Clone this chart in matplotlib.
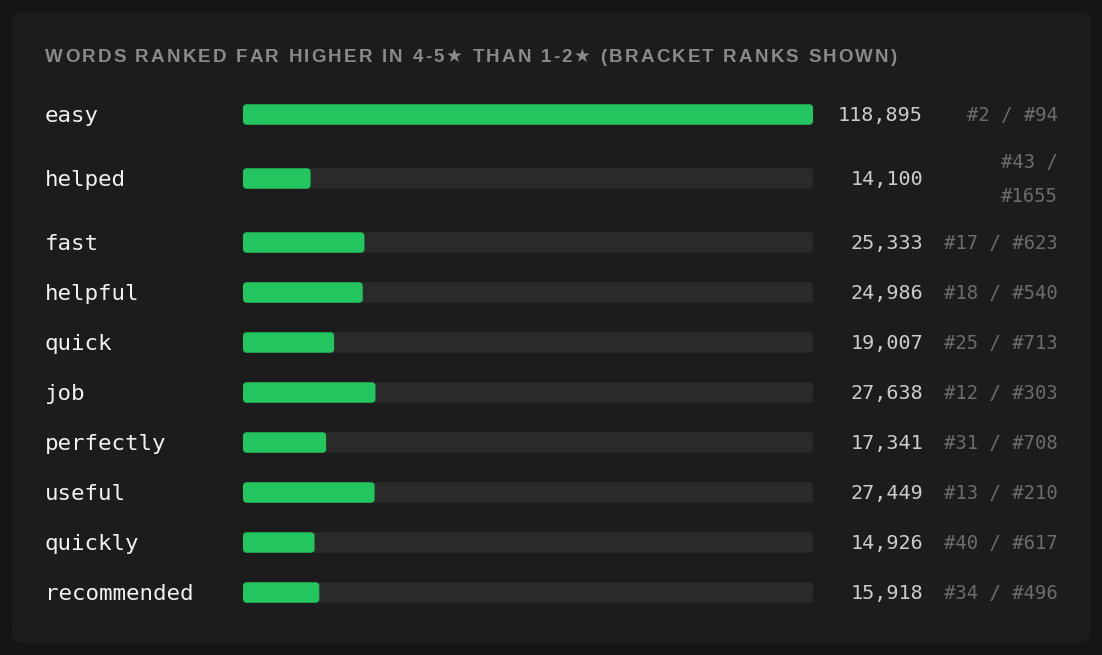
import matplotlib
matplotlib.use("Agg")
import matplotlib.pyplot as plt
from matplotlib.patches import FancyBboxPatch
from matplotlib.font_manager import FontProperties

# data
words = ["easy", "helped", "fast", "helpful", "quick", "job",
         "perfectly", "useful", "quickly", "recommended"]
counts = [118895, 14100, 25333, 24986, 19007, 27638, 17341, 27449, 14926, 15918]
rank_high = [2, 43, 17, 18, 25, 12, 31, 13, 40, 34]
rank_low = [94, 1655, 623, 540, 713, 303, 708, 210, 617, 496]
title = "WORDS RANKED FAR HIGHER IN 4-5\u2605 THAN 1-2\u2605 (BRACKET RANKS SHOWN)"

# colours
BG = "#151515"
CARD = "#1c1c1c"
TRACK = "#2a2a2a"
GREEN = "#22c55e"
MONO = ["DejaVu Sans Mono"]

W, H = 1102, 655
fig = plt.figure(figsize=(W / 100, H / 100), dpi=100, facecolor=BG)

# pixel-space background axes
bg = fig.add_axes([0, 0, 1, 1])
bg.set_xlim(0, W)
bg.set_ylim(H, 0)
bg.axis("off")
bg.add_patch(FancyBboxPatch((12, 12), 1079, 631,
                            boxstyle="round,pad=0,rounding_size=12",
                            fc=CARD, ec="none"))

# title with letter spacing, drawn char by char
renderer = fig.canvas.get_renderer()
tp = FontProperties(family=["Liberation Sans", "DejaVu Sans"], weight="bold", size=13.5)
widths = [renderer.get_text_width_height_descent(c, tp, ismath=False)[0] for c in title]
spacing = (852 - sum(widths)) / (len(title) - 1)
x = 45
for c, w in zip(title, widths):
    bg.text(x, 61.5, c, fontproperties=tp, color="#8a8a8a", ha="left", va="baseline")
    x += w + spacing

# row layout: rows with a long rank string wrap onto two lines
rank_txt = [f"#{a} / #{b}" for a, b in zip(rank_high, rank_low)]
row_h = [78 if len(t) > 10 else 50 for t in rank_txt]
ys = [114.5]
for i in range(1, len(words)):
    ys.append(ys[-1] + (row_h[i - 1] + row_h[i]) / 2)

# bar axes
ax = fig.add_axes([243 / W, 0, 570 / W, 1])
ax.set_xlim(0, max(counts))
ax.set_ylim(H, 0)
ax.axis("off")
track = ax.barh(ys, [max(counts)] * len(counts), height=20.5, color=TRACK)
bars = ax.barh(ys, counts, height=20.5, color=GREEN)

# swap plain rectangles for rounded ones
xs_per_px = max(counts) / 570
for cont in (track, bars):
    for r in cont:
        x0, y0 = r.get_x(), r.get_y()
        bw, bh = r.get_width(), r.get_height()
        fc = r.get_facecolor()
        r.remove()
        ax.add_patch(FancyBboxPatch((x0, y0), bw, bh,
                                    boxstyle=f"round,pad=0,rounding_size={4 * xs_per_px}",
                                    mutation_aspect=1 / xs_per_px,
                                    fc=fc, ec="none"))

RANK_C = "#6c6c6c"
for i, y in enumerate(ys):
    bg.text(45, y + 8, words[i], family=MONO, size=16.2, color="#f2f2f2",
            ha="left", va="baseline")
    bg.text(923, y + 6.5, f"{counts[i]:,}", family=MONO, size=14.5,
            color="#cccccc", ha="right", va="baseline")
    if len(rank_txt[i]) > 10:
        first, second = rank_txt[i].rsplit(" ", 1)
        bg.text(1058, y - 11, first, family=MONO, size=13.6, color=RANK_C,
                ha="right", va="baseline")
        bg.text(1058, y + 23, second, family=MONO, size=13.6, color=RANK_C,
                ha="right", va="baseline")
    else:
        bg.text(1058, y + 6.5, rank_txt[i], family=MONO, size=13.6, color=RANK_C,
                ha="right", va="baseline")

fig.savefig("out.png", dpi=100, facecolor=BG)
